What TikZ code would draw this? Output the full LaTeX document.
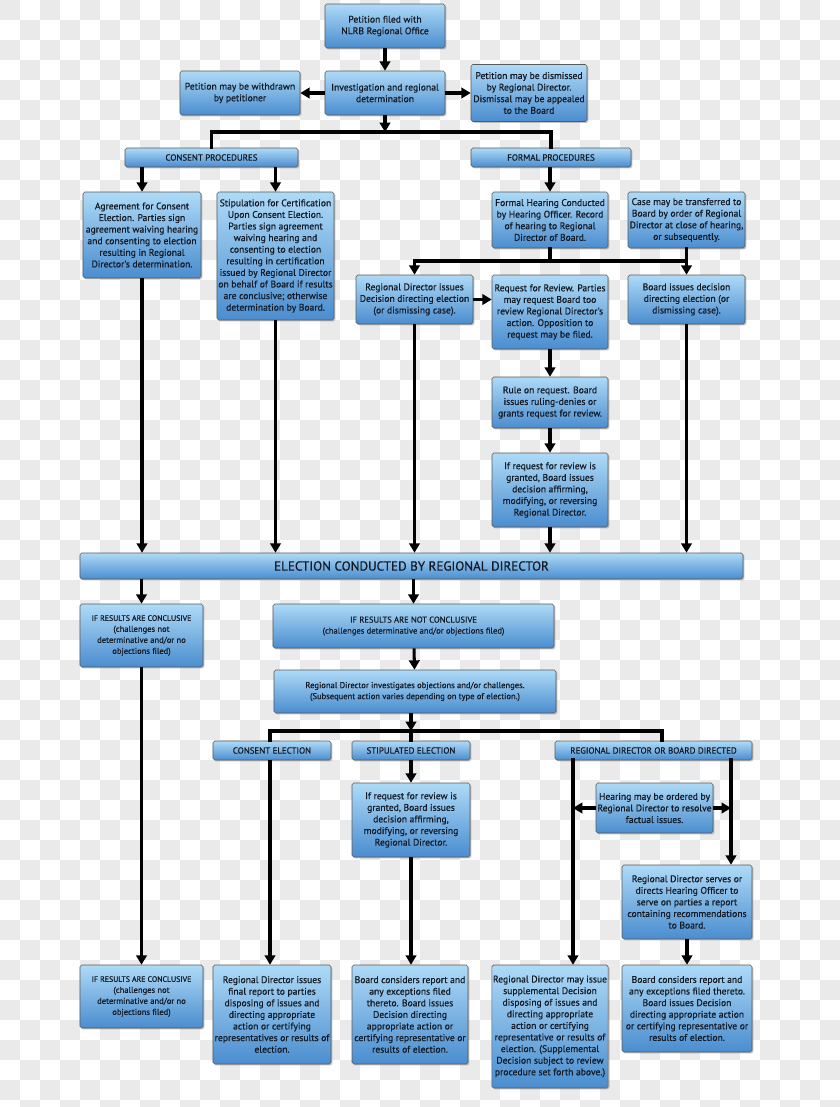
\documentclass[tikz,border=0pt]{standalone}
\usepackage{fontspec}
\setmainfont{PT Sans}
\newfontfamily\boxfont[FakeBold=0.6]{PT Sans}
\usetikzlibrary{arrows.meta,shadows}

\definecolor{boxtop}{HTML}{AEDAF7}
\definecolor{boxbot}{HTML}{4A8DCF}
\definecolor{ink}{HTML}{141A24}
\definecolor{chk}{HTML}{EAEAEA}

\tikzset{
  box/.style={draw=black!65, line width=0.5pt, rounded corners=1.5pt,
    top color=boxtop, bottom color=boxbot, text=ink, align=center,
    inner sep=1pt, font=\boxfont\fontsize{8.2}{9.9}\selectfont,
    drop shadow={shadow xshift=1.2pt, shadow yshift=-1.2pt, opacity=0.45}},
  head/.style={box, font=\boxfont\fontsize{7.6}{9}\selectfont},
  small/.style={box, font=\boxfont\fontsize{7.3}{9.4}\selectfont},
  link/.style={line width=2.6pt, line cap=rect},
  arr/.style={line width=2.6pt, -{Triangle[length=8pt,width=9pt]}},
}

\begin{document}
\begin{tikzpicture}[x=0.03cm,y=-0.03cm]
  \useasboundingbox (0,0) rectangle (840,1107);
  % checkered background
  \begin{scope}
    \clip (0,0) rectangle (840,1107);
    \fill[white] (0,0) rectangle (840,1107);
    \foreach \i in {0,2,...,40}
      \foreach \j in {0,2,...,54} {
        \fill[chk] (\i*20,\j*20) rectangle ++(20,20);
        \fill[chk] (\i*20+20,\j*20+20) rectangle ++(20,20);
      }
  \end{scope}

  % top part
  \node[box, minimum width=3.6cm, minimum height=1.32cm] (pet) at (385,26)
    {Petition filed with\\NLRB Regional Office};
  \node[box, minimum width=3.6cm, minimum height=1.32cm] (inv) at (385,93)
    {Investigation and regional\\determination};
  \node[box, minimum width=3.6cm, minimum height=1.32cm] (wdr) at (240,93)
    {Petition may be withdrawn\\by petitioner};
  \node[box, minimum width=3.48cm, minimum height=1.71cm] (dis) at (529,93)
    {Petition may be dismissed\\by Regional Director.\\Dismissal may be appealed\\to the Board};

  \node[head, minimum width=5.19cm, minimum height=0.57cm] (cons) at (211.5,157.5)
    {CONSENT PROCEDURES};
  \node[head, minimum width=4.8cm, minimum height=0.57cm] (form) at (551,157.5)
    {FORMAL PROCEDURES};

  \node[box, minimum width=3.54cm, minimum height=2.58cm] (agr) at (142,235)
    {Agreement for Consent\\Election. Parties sign\\agreement waiving hearing\\and consenting to election\\resulting in Regional\\Director's determination.};
  \node[box, minimum width=3.51cm, minimum height=3.84cm] (stip) at (275.5,256)
    {Stipulation for Certification\\Upon Consent Election.\\Parties sign agreement\\waiving hearing and\\consenting to election\\resulting in certification\\issued by Regional Director\\on behalf of Board if results\\are conclusive; otherwise\\determination by Board.};
  \node[box, minimum width=3.48cm, minimum height=1.68cm] (hear) at (550,220)
    {Formal Hearing Conducted\\by Hearing Officer. Record\\of hearing to Regional\\Director of Board.};
  \node[box, minimum width=3.51cm, minimum height=1.68cm] (trans) at (686.5,220)
    {Case may be transferred to\\Board by order of Regional\\Director at close of hearing,\\or subsequently.};

  \node[box, minimum width=3.51cm, minimum height=1.47cm] (rdi) at (414.5,299.5)
    {Regional Director issues\\Decision directing election\\(or dismissing case).};
  \node[box, minimum width=3.48cm, minimum height=2.22cm] (req) at (550,312)
    {Request for Review. Parties\\may request Board too\\review Regional Director's\\action. Opposition to\\request may be filed.};
  \node[box, minimum width=3.51cm, minimum height=1.47cm] (bid) at (686.5,299.5)
    {Board issues decision\\directing election (or\\dismissing case).};
  \node[box, minimum width=3.48cm, minimum height=1.53cm] (rule) at (550,402.5)
    {Rule on request. Board\\issues ruling-denies or\\grants request for review.};
  \node[box, minimum width=3.48cm, minimum height=2.22cm] (grant) at (550,490)
    {If request for review is\\granted, Board issues\\decision affirming,\\modifying, or reversing\\Regional Director.};

  \node[box, font=\boxfont\fontsize{11.2}{13}\selectfont, minimum width=19.89cm,
    minimum height=0.78cm] (elec) at (411.5,566)
    {ELECTION CONDUCTED BY REGIONAL DIRECTOR};

  % after the election
  \node[small, minimum width=3.69cm, minimum height=1.89cm] (conc) at (141.5,635.5)
    {{\fontsize{6.7}{9.4}\selectfont IF RESULTS ARE CONCLUSIVE}\\(challenges not\\determinative and/or no\\objections filed)};
  \node[small, minimum width=8.43cm, minimum height=1.32cm] (notc) at (413.5,626)
    {IF RESULTS ARE NOT CONCLUSIVE\\(challenges determinative and/or objections filed)};
  \node[small, minimum width=8.46cm, minimum height=1.29cm] (rdinv) at (415,691.5)
    {Regional Director investigates objections and/or challenges.\\(Subsequent action varies depending on type of election.)};

  \node[head, minimum width=3.54cm, minimum height=0.57cm] (celec) at (272,750.5)
    {CONSENT ELECTION};
  \node[head, minimum width=3.54cm, minimum height=0.57cm] (selec) at (411,750.5)
    {STIPULATED ELECTION};
  \node[head, minimum width=5.91cm, minimum height=0.57cm] (dirc) at (653.5,750.5)
    {REGIONAL DIRECTOR OR BOARD DIRECTED};

  \node[box, minimum width=3.51cm, minimum height=1.5cm] (hord) at (654.5,808)
    {Hearing may be ordered by\\Regional Director to resolve\\factual issues.};
  \node[box, minimum width=3.54cm, minimum height=2.22cm] (grant2) at (411,820)
    {If request for review is\\granted, Board issues\\decision affirming,\\modifying, or reversing\\Regional Director.};
  \node[box, minimum width=3.9cm, minimum height=2.22cm] (serve) at (687,902)
    {Regional Director serves or\\directs Hearing Officer to\\serve on parties a report\\containing recommendations\\to Board.};

  % bottom row
  \node[small, minimum width=3.69cm, minimum height=1.89cm] (conc2) at (141.5,996.5)
    {{\fontsize{6.7}{9.4}\selectfont IF RESULTS ARE CONCLUSIVE}\\(challenges not\\determinative and/or no\\objections filed)};
  \node[box, minimum width=3.54cm, minimum height=2.97cm] (final) at (272,1014.5)
    {Regional Director issues\\final report to parties\\disposing of issues and\\directing appropriate\\action or certifying\\representatives or results of\\election.};
  \node[box, minimum width=3.48cm, minimum height=2.97cm] (bcons) at (410,1014.5)
    {Board considers report and\\any exceptions filed\\thereto. Board issues\\Decision directing\\appropriate action or\\certifying representative or\\results of election.};
  \node[box, minimum width=3.48cm, minimum height=3.69cm] (supp) at (550,1026.5)
    {Regional Director may issue\\supplemental Decision\\disposing of issues and\\directing appropriate\\action or certifying\\representative or results of\\election. (Supplemental\\Decision subject to review\\procedure set forth above.)};
  \node[box, minimum width=3.9cm, minimum height=2.61cm] (bcons2) at (687,1008.5)
    {Board considers report and\\any exceptions filed thereto.\\Board issues Decision\\directing appropriate action\\or certifying representative or\\results of election.};

  % junction points
  \coordinate (split) at (385,132);
  \coordinate (fork) at (550,261);
  \coordinate (types) at (411,731);
  \coordinate (dl) at (573,760);
  \coordinate (dr) at (731,760);

  % connectors, top part
  \draw[arr] (pet) -- (inv);
  \draw[arr] (inv) -- (wdr);
  \draw[arr] (inv) -- (dis);
  \draw[arr] (inv.south) -- (split);
  \draw[link] (cons.north) |- (split) -| (form.north);
  \draw[arr] (cons.south -| agr) -- (agr.north);
  \draw[arr] (cons.south -| stip) -- (stip.north);
  \draw[arr] (form.south -| hear) -- (hear.north);
  \draw[link] (hear.south) -- (fork);
  \draw[link] (trans.south) -- (trans.south |- fork);
  \draw[arr] (fork) -| (rdi.north);
  \draw[arr] (fork) -| (bid.north);
  \draw[arr] (rdi.east) -- (rdi.east -| req.west);
  \draw[arr] (req) -- (rule);
  \draw[arr] (rule) -- (grant);

  % into the election
  \draw[arr] (agr.south) -- (agr.south |- elec.north);
  \draw[arr] (stip.south) -- (stip.south |- elec.north);
  \draw[arr] (rdi.south) -- (rdi.south |- elec.north);
  \draw[arr] (grant.south) -- (grant.south |- elec.north);
  \draw[arr] (bid.south) -- (bid.south |- elec.north);

  % after the election
  \draw[arr] (elec.south -| conc) -- (conc.north);
  \draw[arr] (elec.south -| notc) -- (notc.north);
  \draw[arr] (notc) -- (rdinv);
  \draw[arr] (rdinv.south -| types) -- (types);
  \draw[link] (types) -- (selec.north -| types);
  \draw[link] (celec.north -| 270,0) |- (types) -| (dirc.north -| 662,0);
  \draw[arr] (selec.south) -- (grant2.north);
  \draw[link] (dirc.south -| dl) -- (dl);
  \draw[link] (dirc.south -| dr) -- (dr);
  \draw[arr] (hord.west) -- (hord.west -| dl);
  \draw[arr] (hord.east) -- (hord.east -| dr);

  % down to the bottom row
  \draw[arr] (conc.south) -- (conc2.north);
  \draw[arr] (celec.south -| 270,0) -- (final.north -| 270,0);
  \draw[arr] (grant2.south) -- (bcons.north -| grant2);
  \draw[arr] (dl) -- (supp.north -| dl);
  \draw[arr] (dr) -- (serve.north -| dr);
  \draw[arr] (serve.south) -- (bcons2.north);
\end{tikzpicture}
\end{document}
